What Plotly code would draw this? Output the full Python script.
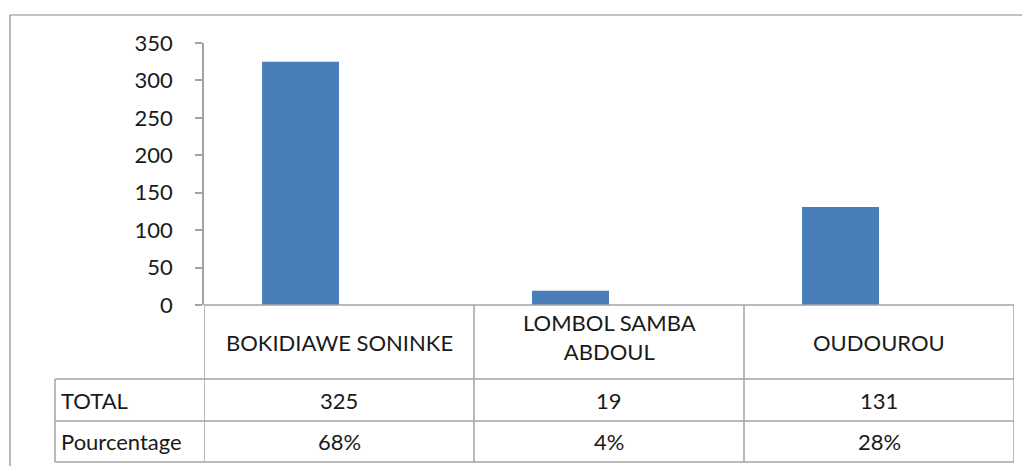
import plotly.graph_objects as go

# data
sites = ["BOKIDIAWE SONINKE", "LOMBOL SAMBA ABDOUL", "OUDOUROU"]
site_labels = ["BOKIDIAWE SONINKE", "LOMBOL SAMBA<br>ABDOUL", "OUDOUROU"]
total = [325, 19, 131]
pourcentage = ["68%", "4%", "28%"]
row_names = ["TOTAL", "Pourcentage"]
y_ticks = [0, 50, 100, 150, 200, 250, 300, 350]

FONT = "Lato"
TXT = "#1a1a1a"
GRID = "#a3a3a3"
BAR = "#4a7ebb"

# page body adds an 8px margin, so everything is placed 8px up/left
OFF = 8
W, H = 1030, 466
L, T = 204 - OFF, 43 - OFF
R = W - (1014 - OFF)
B = H - (305 - OFF)
pw, ph = W - L - R, H - T - B

def px_x(p):
    return (p - OFF - L) / pw

def px_y(p):
    return (H - B - (p - OFF)) / ph

fig = go.Figure(go.Bar(
    x=sites, y=total, marker_color=BAR, marker_line_width=0,
    width=0.285, offset=-0.285, showlegend=False, hoverinfo="x+y"))

# table geometry (reference pixels)
row_top, row1, row2, row_bot = 305, 379, 421, 462
left_col = 55

shapes = []
line = dict(color=GRID, width=1.5)
shapes.append(dict(type="line", xref="x", yref="paper", x0=-0.5, x1=2.5,
                   y0=px_y(row_top), y1=px_y(row_top), line=line))
for yy in (row1, row2, row_bot):
    shapes.append(dict(type="line", xref="paper", yref="paper", x0=px_x(left_col), x1=1,
                       y0=px_y(yy), y1=px_y(yy), line=line))
for xv in (-0.5, 0.5, 1.5, 2.5):
    shapes.append(dict(type="line", xref="x", yref="paper", x0=xv, x1=xv,
                       y0=px_y(row_top), y1=px_y(row_bot), line=line))
shapes.append(dict(type="line", xref="paper", yref="paper", x0=px_x(left_col), x1=px_x(left_col),
                   y0=px_y(row1), y1=px_y(row_bot), line=line))
# chart frame (top and left)
frame = dict(color="#888888", width=1.2)
shapes.append(dict(type="line", xref="paper", yref="paper", x0=px_x(10), x1=px_x(W + 20),
                   y0=px_y(15), y1=px_y(15), line=frame))
shapes.append(dict(type="line", xref="paper", yref="paper", x0=px_x(10), x1=px_x(10),
                   y0=px_y(15), y1=px_y(H + 20), line=frame))

annotations = []
font = dict(family=FONT, size=22, color=TXT)
for s, lab in zip(sites, site_labels):
    yc = (row_top + row1) / 2 - (5 if "<br>" in lab else 0)
    annotations.append(dict(x=s, xref="x", y=px_y(yc), yref="paper",
                            text=lab, showarrow=False, font=font, yanchor="middle"))
for i, s in enumerate(sites):
    annotations.append(dict(x=s, xref="x", y=px_y((row1 + row2) / 2), yref="paper",
                            text=str(total[i]), showarrow=False, font=font, yanchor="middle"))
    annotations.append(dict(x=s, xref="x", y=px_y((row2 + row_bot) / 2), yref="paper",
                            text=pourcentage[i], showarrow=False, font=font, yanchor="middle"))
for name, (a, b) in zip(row_names, [(row1, row2), (row2, row_bot)]):
    annotations.append(dict(x=px_x(left_col + 4), xref="paper", y=px_y((a + b) / 2), yref="paper",
                            text=name, showarrow=False, font=font, xanchor="left", yanchor="middle"))

fig.update_layout(
    width=W, height=H,
    margin=dict(l=L, r=R, t=T, b=B, pad=0),
    paper_bgcolor="white", plot_bgcolor="white",
    font=dict(family=FONT, size=22, color=TXT),
    shapes=shapes, annotations=annotations,
    xaxis=dict(range=[-0.5, 2.5], showticklabels=False, showgrid=False, zeroline=False,
               showline=False, ticks=""),
    yaxis=dict(range=[0, 350], tickvals=y_ticks, showgrid=False, zeroline=False,
               showline=True, linecolor=GRID, linewidth=1.5,
               ticks="outside", ticklen=7, tickcolor=GRID, tickwidth=1.5,
               ticklabelstandoff=18, tickfont=font),
)

fig.write_html("out.html")
